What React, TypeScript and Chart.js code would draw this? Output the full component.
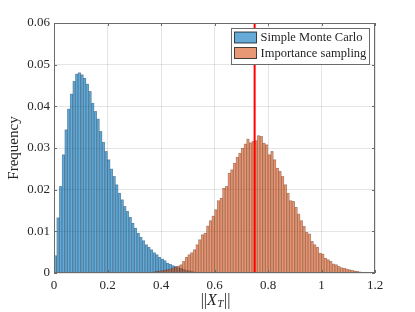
import React, { useEffect, useRef } from "react";
import { Chart, registerables } from "chart.js";
Chart.register(...registerables);

const binWidth = 0.01;
const blueStart = 0;
const orangeStart = 0.33;
const blueValues = [
  0.0042, 0.0133, 0.0208, 0.0284, 0.0344, 0.0394, 0.043, 0.046, 0.0478, 0.0481,
  0.0476, 0.0468, 0.0454, 0.0436, 0.0408, 0.0388, 0.037, 0.034, 0.0314, 0.0292,
  0.0272, 0.025, 0.0232, 0.0212, 0.0192, 0.0176, 0.016, 0.0148, 0.0134, 0.012,
  0.0108, 0.0096, 0.0086, 0.0078, 0.0068, 0.0062, 0.0056, 0.0049, 0.0044, 0.0038,
  0.0034, 0.003, 0.0024, 0.0021, 0.0018, 0.0016, 0.0013, 0.0011, 0.0009, 0.0007,
  0.0006, 0.0004, 0.0003, 0.0002, 0.0002, 0.0001, 0.0001,
];
const orangeValues = [
  0.0001, 0.0001, 0.0002, 0.0002, 0.0003, 0.0004, 0.0005, 0.0006, 0.0007, 0.0008,
  0.001, 0.0012, 0.0014, 0.0017, 0.002, 0.0028, 0.0038, 0.0044, 0.0049, 0.0056,
  0.0068, 0.008, 0.0092, 0.0096, 0.0113, 0.0126, 0.0137, 0.0152, 0.0174, 0.018,
  0.0204, 0.0208, 0.024, 0.0248, 0.0264, 0.0278, 0.0288, 0.03, 0.031, 0.0322,
  0.0313, 0.0316, 0.0318, 0.033, 0.0328, 0.0312, 0.0308, 0.0284, 0.0292, 0.0272,
  0.0252, 0.0244, 0.0232, 0.0212, 0.0192, 0.0174, 0.0172, 0.0158, 0.0142, 0.0126,
  0.0112, 0.0098, 0.0094, 0.0076, 0.0068, 0.0062, 0.0048, 0.0046, 0.0036, 0.0032,
  0.0028, 0.0022, 0.002, 0.0016, 0.0013, 0.0012, 0.001, 0.0008, 0.0007, 0.0005,
  0.0004, 0.0003, 0.0002, 0.0002, 0.0001, 0.0001, 0.0001,
];
const referenceValue = 0.75;
const seriesLabels = ["Simple Monte Carlo", "Importance sampling"];
const xTicks = [0, 0.2, 0.4, 0.6, 0.8, 1, 1.2];
const xTickLabels = ["0", "0.2", "0.4", "0.6", "0.8", "1", "1.2"];
const yTicks = [0, 0.01, 0.02, 0.03, 0.04, 0.05, 0.06];
const yTickLabels = ["0", "0.01", "0.02", "0.03", "0.04", "0.05", "0.06"];
const yAxisTitle = "Frequency";

const SERIF = "'Liberation Serif', 'Times New Roman', serif";
const TEXT = "#262626";
const FRAME = "#6b6b6b";

const toPoints = (start: number, values: number[]) =>
  values.map((v, i) => ({
    x: Math.round((start + (i + 0.5) * binWidth) * 10000) / 10000,
    y: v,
  }));

const framePlugin = {
  id: "frame",
  afterDatasetsDraw(chart: any) {
    const { ctx, chartArea: a, scales } = chart;
    ctx.save();
    ctx.strokeStyle = FRAME;
    ctx.lineWidth = 1;
    ctx.beginPath();
    const tl = 3;
    scales.x.ticks.forEach((t: any) => {
      const px = Math.round(scales.x.getPixelForValue(t.value)) + 0.5;
      ctx.moveTo(px, a.bottom);
      ctx.lineTo(px, a.bottom - tl);
      ctx.moveTo(px, a.top);
      ctx.lineTo(px, a.top + tl);
    });
    scales.y.ticks.forEach((t: any) => {
      const py = Math.round(scales.y.getPixelForValue(t.value)) + 0.5;
      ctx.moveTo(a.left, py);
      ctx.lineTo(a.left + tl, py);
      ctx.moveTo(a.right, py);
      ctx.lineTo(a.right - tl, py);
    });
    ctx.stroke();
    ctx.strokeRect(
      Math.round(a.left) + 0.5,
      Math.round(a.top) + 0.5,
      Math.round(a.right - a.left) - 1,
      Math.round(a.bottom - a.top) - 1
    );
    ctx.restore();
  },
  afterDraw(chart: any) {
    const { ctx, chartArea: a } = chart;
    ctx.save();
    // legend
    const fontSize = 12.5;
    ctx.font = `${fontSize}px ${SERIF}`;
    const entries = chart.data.datasets.filter((d: any) => d.type !== "line");
    const textW = Math.max(...entries.map((d: any) => ctx.measureText(d.label).width));
    const swW = 22, swH = 11, rowH = 15.5;
    const boxRight = 369.5;
    const boxW = 3 + swW + 4 + textW + 4;
    const boxLeft = Math.round(boxRight - boxW) + 0.5;
    const boxTop = 28.5;
    const boxH = 8 + rowH * entries.length - 3;
    ctx.fillStyle = "#fff";
    ctx.fillRect(boxLeft, boxTop, boxRight - boxLeft, boxH);
    ctx.strokeStyle = FRAME;
    ctx.lineWidth = 1;
    ctx.strokeRect(boxLeft, boxTop, boxRight - boxLeft, boxH);
    entries.forEach((d: any, i: number) => {
      const sx = boxLeft + 3;
      const sy = boxTop + 3.5 + i * rowH;
      ctx.fillStyle = "#fff";
      ctx.fillRect(sx, sy, swW, swH);
      ctx.fillStyle = d.backgroundColor;
      ctx.fillRect(sx, sy, swW, swH);
      ctx.strokeStyle = "rgba(0,0,0,0.7)";
      ctx.strokeRect(sx, sy, swW, swH);
      ctx.fillStyle = TEXT;
      ctx.textBaseline = "middle";
      ctx.textAlign = "left";
      ctx.fillText(d.label, sx + swW + 4, sy + swH / 2 + 0.5);
    });
    // x axis title: ||X_T||
    const cx = (a.left + a.right) / 2 + 1;
    const cy = a.bottom + 28;
    const big = `16px ${SERIF}`;
    const it = `italic 16px ${SERIF}`;
    const sub = `italic 11px ${SERIF}`;
    const parts = [
      { t: "||", f: big, dy: 0 },
      { t: "X", f: it, dy: 0 },
      { t: "T", f: sub, dy: 3.5 },
      { t: "||", f: big, dy: 0 },
    ];
    let total = 0;
    const widths = parts.map((p) => {
      ctx.font = p.f;
      const w = ctx.measureText(p.t).width + (p.t === "||" ? 0 : 0.5);
      total += w;
      return w;
    });
    let x = cx - total / 2;
    ctx.fillStyle = TEXT;
    ctx.textBaseline = "middle";
    ctx.textAlign = "left";
    parts.forEach((p, i) => {
      ctx.font = p.f;
      ctx.fillText(p.t, x, cy + p.dy);
      x += widths[i];
    });
    ctx.restore();
  },
};

export default function App() {
  const ref = useRef<HTMLCanvasElement>(null);
  useEffect(() => {
    if (!ref.current) return;
    const chart = new Chart(ref.current, {
      type: "bar",
      data: {
        datasets: [
          {
            type: "bar",
            label: seriesLabels[0],
            data: toPoints(blueStart, blueValues),
            backgroundColor: "rgba(0,114,189,0.6)",
            borderColor: "rgba(0,0,0,0.35)",
            borderWidth: 0.4,
            barPercentage: 1,
            categoryPercentage: 1,
            grouped: false,
            order: 2,
          },
          {
            type: "bar",
            label: seriesLabels[1],
            data: toPoints(orangeStart, orangeValues),
            backgroundColor: "rgba(217,83,25,0.6)",
            borderColor: "rgba(0,0,0,0.35)",
            borderWidth: 0.4,
            barPercentage: 1,
            categoryPercentage: 1,
            grouped: false,
            order: 1,
          },
          {
            type: "line",
            label: "reference",
            data: [
              { x: referenceValue, y: yTicks[0] },
              { x: referenceValue, y: yTicks[yTicks.length - 1] },
            ],
            borderColor: "rgb(255,0,0)",
            borderWidth: 2,
            pointRadius: 0,
            order: 0,
          },
        ] as any,
      },
      options: {
        responsive: false,
        animation: false,
        devicePixelRatio: 1,
        layout: { padding: { left: 0, right: 40, top: 23, bottom: 0 } },
        plugins: {
          legend: { display: false },
          tooltip: { enabled: false },
        },
        scales: {
          x: {
            type: "linear",
            min: xTicks[0],
            max: xTicks[xTicks.length - 1],
            offset: false,
            grid: { offset: false, color: "rgba(38,38,38,0.12)", drawTicks: false },
            border: { display: false },
            ticks: {
              padding: 5,
              autoSkip: false,
              maxRotation: 0,
              color: TEXT,
              font: { family: SERIF, size: 13 },
              callback: (_v: any, i: number) => xTickLabels[i],
            },
            afterBuildTicks: (s: any) => {
              s.ticks = xTicks.map((v) => ({ value: v }));
            },
            afterFit: (s: any) => {
              s.height = 39;
            },
          },
          y: {
            type: "linear",
            min: yTicks[0],
            max: yTicks[yTicks.length - 1],
            grid: { color: "rgba(38,38,38,0.12)", drawTicks: false },
            border: { display: false },
            ticks: {
              padding: 4,
              autoSkip: false,
              color: TEXT,
              font: { family: SERIF, size: 13 },
              callback: (_v: any, i: number) => yTickLabels[i],
            },
            afterBuildTicks: (s: any) => {
              s.ticks = yTicks.map((v) => ({ value: v }));
            },
            title: {
              display: true,
              text: yAxisTitle,
              color: TEXT,
              font: { family: SERIF, size: 15 },
              padding: { top: 5, bottom: 0 },
            },
            afterFit: (s: any) => {
              s.width = 54;
            },
          },
        },
      } as any,
      plugins: [framePlugin],
    });
    return () => chart.destroy();
  }, []);
  return (
    <div style={{ position: "fixed", left: 0, top: 0, width: 415, height: 312, background: "#fff" }}>
      <canvas ref={ref} width={415} height={312} style={{ width: 415, height: 312, display: "block" }} />
    </div>
  );
}
